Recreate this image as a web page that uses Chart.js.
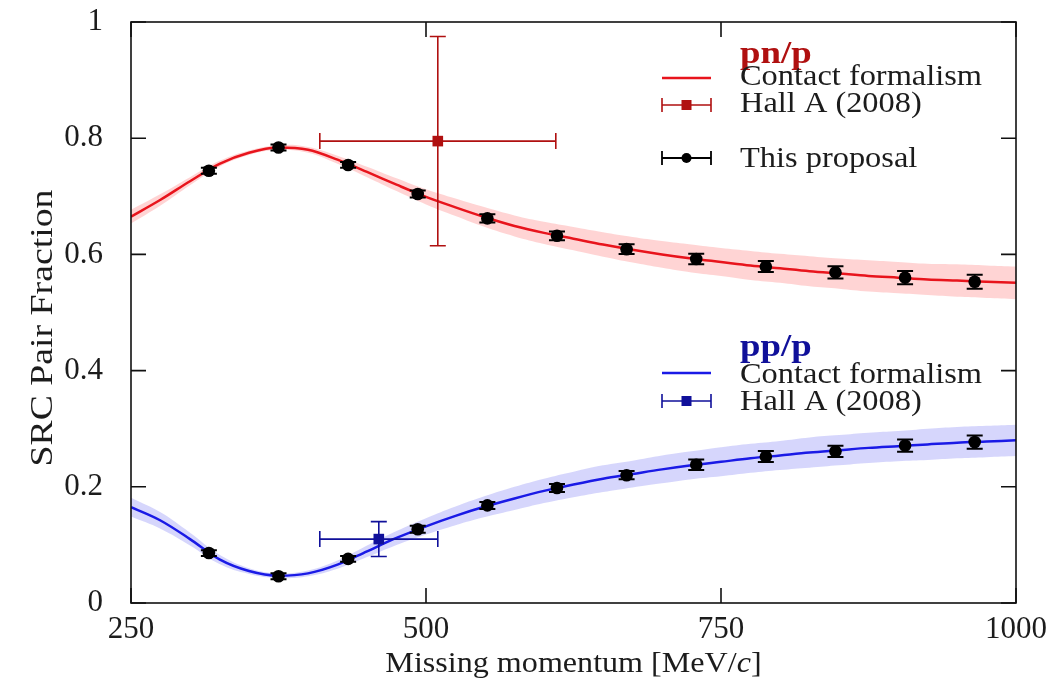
<!DOCTYPE html>
<html>
<head>
<meta charset="utf-8">
<script src="https://cdn.jsdelivr.net/npm/chart.js@4.4.1/dist/chart.umd.min.js"></script>
<style>
  html, body { margin: 0; padding: 0; background: #fff; }
  #wrap { width: 1056px; height: 686px; position: relative; }
</style>
</head>
<body>
<div id="wrap"><canvas id="myChart"></canvas></div>
<script>
// Contact formalism curves, sampled every 25 MeV/c
const curveX  = [250, 275, 300, 325, 350, 375, 400, 425, 450, 475, 500, 525, 550, 575, 600, 625, 650, 675, 700, 725, 750, 775, 800, 825, 850, 875, 900, 925, 950, 975, 1000];
const pnCurve = [0.665, 0.694, 0.726, 0.756, 0.775, 0.784, 0.780, 0.763, 0.742, 0.720, 0.699, 0.681, 0.664, 0.649, 0.637, 0.627, 0.617, 0.608, 0.600, 0.593, 0.587, 0.581, 0.576, 0.571, 0.567, 0.563, 0.560, 0.557, 0.555, 0.553, 0.551];
const pnBand  = [0.012, 0.010, 0.007, 0.005, 0.004, 0.004, 0.005, 0.007, 0.009, 0.011, 0.013, 0.015, 0.017, 0.018, 0.019, 0.020, 0.021, 0.022, 0.023, 0.024, 0.024, 0.025, 0.025, 0.026, 0.026, 0.027, 0.027, 0.027, 0.028, 0.028, 0.028];
const ppCurve = [0.165, 0.142, 0.110, 0.075, 0.055, 0.047, 0.051, 0.066, 0.089, 0.112, 0.132, 0.150, 0.166, 0.180, 0.193, 0.204, 0.214, 0.222, 0.230, 0.237, 0.243, 0.249, 0.254, 0.259, 0.263, 0.267, 0.270, 0.273, 0.276, 0.278, 0.280];
const ppBand  = [0.016, 0.014, 0.011, 0.008, 0.005, 0.004, 0.005, 0.007, 0.010, 0.012, 0.014, 0.016, 0.018, 0.020, 0.021, 0.022, 0.023, 0.023, 0.024, 0.024, 0.025, 0.025, 0.025, 0.026, 0.026, 0.026, 0.026, 0.027, 0.027, 0.027, 0.027];

// This proposal
const dataX  = [316, 375, 434, 493, 552, 611, 670, 729, 788, 847, 906, 965];
const pnData = [0.744, 0.784, 0.754, 0.704, 0.662, 0.632, 0.609, 0.592, 0.579, 0.569, 0.560, 0.553];
const pnErr  = [0.005, 0.005, 0.005, 0.006, 0.007, 0.0075, 0.0085, 0.009, 0.0095, 0.0105, 0.0115, 0.012];
const ppData = [0.086, 0.046, 0.076, 0.127, 0.168, 0.198, 0.220, 0.238, 0.252, 0.261, 0.271, 0.277];
const ppErr  = [0.005, 0.005, 0.005, 0.006, 0.006, 0.007, 0.007, 0.009, 0.0095, 0.0095, 0.0105, 0.0115];

// Hall A (2008)
const hallPnX = [510], hallPnXErr = [100], hallPnY = [0.795], hallPnYErr = [0.18];
const hallPpX = [460], hallPpXErr = [50],  hallPpY = [0.11],  hallPpYErr = [0.03];

const xTicks = [250, 500, 750, 1000];
const xTickLabels = ['250', '500', '750', '1000'];
const yTicks = [0, 0.2, 0.4, 0.6, 0.8, 1];
const yTickLabels = ['0', '0.2', '0.4', '0.6', '0.8', '1'];

const RED = '#e8141c', RED_DARK = '#b01010', RED_BAND = 'rgba(255,0,0,0.17)';
const BLUE = '#1a1ae6', BLUE_DARK = '#10109a', BLUE_BAND = 'rgba(50,50,240,0.2)';
const TXT = '#1c1c1c';
const SERIF = '"Liberation Serif", "Times New Roman", serif';

function pts(xs, ys) { return xs.map((x, i) => ({ x: x, y: ys[i] })); }

function txt(ctx, s, x, y, font, color, sx) {
    ctx.save();
    ctx.font = font;
    ctx.fillStyle = color;
    ctx.textBaseline = 'alphabetic';
    ctx.translate(x, y);
    ctx.scale(sx || 1, 1);
    ctx.fillText(s, 0, 0);
    ctx.restore();
}

function errBar(ctx, px, y1, y2, x1, x2, py, cap) {
    ctx.beginPath();
    ctx.moveTo(px, y1); ctx.lineTo(px, y2);
    ctx.moveTo(px - cap, y1); ctx.lineTo(px + cap, y1);
    ctx.moveTo(px - cap, y2); ctx.lineTo(px + cap, y2);
    if (x1 !== null) {
        ctx.moveTo(x1, py); ctx.lineTo(x2, py);
        ctx.moveTo(x1, py - cap); ctx.lineTo(x1, py + cap);
        ctx.moveTo(x2, py - cap); ctx.lineTo(x2, py + cap);
    }
    ctx.stroke();
}

// error bars from the dataset's errY / errX lists
const errorBars = {
    id: 'errorBars',
    afterDatasetsDraw(chart) {
        const ctx = chart.ctx, xs = chart.scales.x, ys = chart.scales.y;
        chart.data.datasets.forEach(ds => {
            if (!ds.errY) return;
            ctx.save();
            ctx.strokeStyle = ds.barColor;
            ctx.lineWidth = ds.barWidth;
            ds.data.forEach((p, k) => {
                const px = xs.getPixelForValue(p.x), py = ys.getPixelForValue(p.y);
                const y1 = ys.getPixelForValue(p.y + ds.errY[k]);
                const y2 = ys.getPixelForValue(p.y - ds.errY[k]);
                let x1 = null, x2 = null;
                if (ds.errX) {
                    x1 = xs.getPixelForValue(p.x - ds.errX[k]);
                    x2 = xs.getPixelForValue(p.x + ds.errX[k]);
                }
                errBar(ctx, px, y1, y2, x1, x2, py, 8);
            });
            ctx.restore();
        });
    }
};

// frame, inward ticks on all sides, axis titles and the legend
const frame = {
    id: 'frame',
    afterDraw(chart) {
        const ctx = chart.ctx, a = chart.chartArea, xs = chart.scales.x, ys = chart.scales.y;
        ctx.save();
        ctx.strokeStyle = '#111';
        ctx.lineWidth = 1.6;
        ctx.strokeRect(a.left, a.top, a.right - a.left, a.bottom - a.top);
        ctx.beginPath();
        xTicks.forEach(v => {
            const px = xs.getPixelForValue(v);
            ctx.moveTo(px, a.bottom); ctx.lineTo(px, a.bottom - 15);
            ctx.moveTo(px, a.top); ctx.lineTo(px, a.top + 15);
        });
        yTicks.forEach(v => {
            const py = ys.getPixelForValue(v);
            ctx.moveTo(a.left, py); ctx.lineTo(a.left + 15, py);
            ctx.moveTo(a.right, py); ctx.lineTo(a.right - 15, py);
        });
        ctx.stroke();
        ctx.restore();

        // x title with italic c
        const f = '30px ' + SERIF, fi = 'italic 30px ' + SERIF, sx = 1.07;
        ctx.save();
        ctx.font = f;
        const p1 = 'Missing momentum [MeV/', p3 = ']';
        const w1 = ctx.measureText(p1).width * sx, w3 = ctx.measureText(p3).width * sx;
        ctx.font = fi;
        const w2 = ctx.measureText('c').width * sx;
        ctx.restore();
        let x0 = (a.left + a.right) / 2 - (w1 + w2 + w3) / 2;
        txt(ctx, p1, x0, 672, f, TXT, sx);
        txt(ctx, 'c', x0 + w1, 672, fi, TXT, sx);
        txt(ctx, p3, x0 + w1 + w2, 672, f, TXT, sx);

        // y title
        ctx.save();
        ctx.translate(52, 328);
        ctx.rotate(-Math.PI / 2);
        ctx.font = '32px ' + SERIF;
        ctx.fillStyle = TXT;
        ctx.textAlign = 'center';
        ctx.scale(1.18, 1);
        ctx.fillText('SRC Pair Fraction', 0, 0);
        ctx.restore();

        // legend
        const lf = '30px ' + SERIF, bf = 'bold 32px ' + SERIF, lsx = 1.08;
        const lx = 740, s1 = 662, s2 = 711, sm = 686.5;
        txt(ctx, 'pn/p', lx, 63, bf, RED_DARK, 1.15);
        txt(ctx, 'Contact formalism', lx, 85, lf, TXT, lsx);
        txt(ctx, 'Hall A (2008)', lx, 112, lf, TXT, lsx);
        txt(ctx, 'This proposal', lx, 167, lf, TXT, lsx);
        txt(ctx, 'pp/p', lx, 356, bf, BLUE_DARK, 1.15);
        txt(ctx, 'Contact formalism', lx, 383, lf, TXT, lsx);
        txt(ctx, 'Hall A (2008)', lx, 410, lf, TXT, lsx);

        ctx.save();
        ctx.lineWidth = 2.5;
        ctx.strokeStyle = RED;
        ctx.beginPath(); ctx.moveTo(s1, 78); ctx.lineTo(s2, 78); ctx.stroke();
        ctx.strokeStyle = BLUE;
        ctx.beginPath(); ctx.moveTo(s1, 373); ctx.lineTo(s2, 373); ctx.stroke();

        ctx.lineWidth = 1.6;
        [[105, RED_DARK], [401, BLUE_DARK]].forEach(r => {
            ctx.strokeStyle = r[1];
            ctx.fillStyle = r[1];
            ctx.beginPath();
            ctx.moveTo(s1, r[0]); ctx.lineTo(s2, r[0]);
            ctx.moveTo(s1, r[0] - 7); ctx.lineTo(s1, r[0] + 7);
            ctx.moveTo(s2, r[0] - 7); ctx.lineTo(s2, r[0] + 7);
            ctx.stroke();
            ctx.fillRect(sm - 5, r[0] - 5, 10, 10);
        });

        ctx.strokeStyle = '#000';
        ctx.fillStyle = '#000';
        ctx.lineWidth = 1.8;
        ctx.beginPath();
        ctx.moveTo(s1, 158); ctx.lineTo(s2, 158);
        ctx.moveTo(s1, 151); ctx.lineTo(s1, 165);
        ctx.moveTo(s2, 151); ctx.lineTo(s2, 165);
        ctx.stroke();
        ctx.beginPath(); ctx.arc(sm, 158, 5, 0, Math.PI * 2); ctx.fill();
        ctx.restore();
    }
};

const ctx = document.getElementById('myChart').getContext('2d');

new Chart(ctx, {
    type: 'scatter',
    data: {
        datasets: [
            // bands
            { data: pts(curveX, pnCurve.map((v, i) => v - pnBand[i])), showLine: true, borderWidth: 0, pointRadius: 0, fill: false, order: 5, tension: 0.4 },
            { data: pts(curveX, pnCurve.map((v, i) => v + pnBand[i])), showLine: true, borderWidth: 0, pointRadius: 0, fill: '-1', backgroundColor: RED_BAND, order: 5, tension: 0.4 },
            { data: pts(curveX, ppCurve.map((v, i) => v - ppBand[i])), showLine: true, borderWidth: 0, pointRadius: 0, fill: false, order: 5, tension: 0.4 },
            { data: pts(curveX, ppCurve.map((v, i) => v + ppBand[i])), showLine: true, borderWidth: 0, pointRadius: 0, fill: '-1', backgroundColor: BLUE_BAND, order: 5, tension: 0.4 },
            // contact formalism
            { data: pts(curveX, pnCurve), showLine: true, borderColor: RED, borderWidth: 2.5, pointRadius: 0, cubicInterpolationMode: 'monotone', order: 3 },
            { data: pts(curveX, ppCurve), showLine: true, borderColor: BLUE, borderWidth: 2.5, pointRadius: 0, cubicInterpolationMode: 'monotone', order: 3 },
            // Hall A (2008)
            { data: pts(hallPnX, hallPnY), errY: hallPnYErr, errX: hallPnXErr, barColor: RED_DARK, barWidth: 1.6,
              pointStyle: 'rect', pointRadius: 7.5, backgroundColor: RED_DARK, borderColor: RED_DARK, borderWidth: 0, order: 2 },
            { data: pts(hallPpX, hallPpY), errY: hallPpYErr, errX: hallPpXErr, barColor: BLUE_DARK, barWidth: 1.6,
              pointStyle: 'rect', pointRadius: 7.5, backgroundColor: BLUE_DARK, borderColor: BLUE_DARK, borderWidth: 0, order: 2 },
            // this proposal
            { data: pts(dataX, pnData), errY: pnErr, barColor: '#000', barWidth: 2,
              pointRadius: 6.3, backgroundColor: '#000', borderColor: '#000', borderWidth: 0, order: 1 },
            { data: pts(dataX, ppData), errY: ppErr, barColor: '#000', barWidth: 2,
              pointRadius: 6.3, backgroundColor: '#000', borderColor: '#000', borderWidth: 0, order: 1 }
        ]
    },
    options: {
        responsive: true,
        maintainAspectRatio: false,
        animation: false,
        events: [],
        layout: { padding: { left: 0, top: 22, right: 40, bottom: 0 } },
        scales: {
            x: {
                type: 'linear',
                min: 250,
                max: 1000,
                afterBuildTicks: s => { s.ticks = xTicks.map(v => ({ value: v })); },
                afterFit: s => { s.height = 83; s.paddingLeft = 0; s.paddingRight = 0; },
                ticks: {
                    callback: (v, i) => xTickLabels[i],
                    color: TXT,
                    font: { family: SERIF, size: 31 },
                    padding: 0,
                    maxRotation: 0,
                    autoSkip: false
                },
                grid: { display: false },
                border: { display: false }
            },
            y: {
                type: 'linear',
                min: 0,
                max: 1,
                afterBuildTicks: s => { s.ticks = yTicks.map(v => ({ value: v })); },
                afterFit: s => { s.width = 131; s.paddingTop = 0; s.paddingBottom = 0; },
                ticks: {
                    callback: (v, i) => yTickLabels[i],
                    color: TXT,
                    font: { family: SERIF, size: 31 },
                    padding: 20,
                    autoSkip: false
                },
                grid: { display: false },
                border: { display: false }
            }
        },
        plugins: {
            legend: { display: false },
            tooltip: { enabled: false }
        }
    },
    plugins: [errorBars, frame]
});
</script>
</body>
</html>
